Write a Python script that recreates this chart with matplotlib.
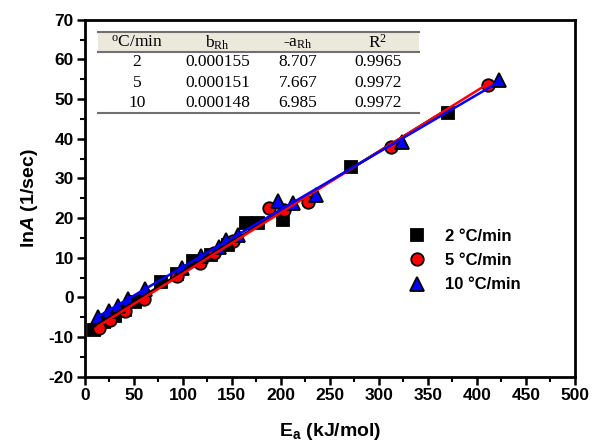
import matplotlib

matplotlib.use("Agg")
import matplotlib.pyplot as plt
import numpy as np
from matplotlib.ticker import MultipleLocator

# 2 C/min (squares)
ea_2 = [9, 20, 31, 41, 51, 78, 94, 110, 129, 146, 164, 177, 202, 272, 370]
lna_2 = [-8.1, -6.3, -4.6, -3.2, -1.2, 4.0, 6.0, 9.3, 10.8, 13.3, 18.8, 18.8, 19.6, 32.8, 46.6]

# 5 C/min (circles)
ea_5 = [14, 26, 41, 60, 94, 117, 132, 151, 188, 203, 228, 312, 411]
lna_5 = [-7.8, -5.8, -3.3, -0.4, 5.5, 8.6, 11.3, 14.1, 22.6, 22.1, 24.0, 37.9, 53.6]

# 10 C/min (triangles)
ea_10 = [13, 25, 34, 44, 61, 99, 118, 137, 144, 156, 197, 212, 236, 324, 423]
lna_10 = [-5.0, -3.4, -2.1, -0.4, 2.1, 7.5, 10.4, 12.7, 14.5, 15.8, 24.2, 23.9, 25.9, 39.2, 54.7]

# inset table
table_header = [r"$\mathregular{^{o}}$C/min", r"b$\mathregular{_{Rh}}$",
                r"-a$\mathregular{_{Rh}}$", r"R$\mathregular{^{2}}$"]
table_rows = [
    ["2", "0.000155", "8.707", "0.9965"],
    ["5", "0.000151", "7.667", "0.9972"],
    ["10", "0.000148", "6.985", "0.9972"],
]

plt.rcParams["font.family"] = "Liberation Sans"
plt.rcParams["font.weight"] = "bold"
plt.rcParams["axes.unicode_minus"] = False
plt.rcParams["mathtext.fontset"] = "custom"
plt.rcParams["mathtext.rm"] = "Liberation Sans:bold"
plt.rcParams["mathtext.bf"] = "Liberation Sans:bold"
plt.rcParams["mathtext.it"] = "Liberation Sans:bold:italic"

fig = plt.figure(figsize=(6.02, 4.47), dpi=100)
ax = fig.add_axes([0.141, 0.157, 0.814, 0.799])

series = [
    (ea_2, lna_2, "s", "black", 8.5, "2 \u00b0C/min"),
    (ea_5, lna_5, "o", "red", 9, "5 \u00b0C/min"),
    (ea_10, lna_10, "^", "blue", 10, "10 \u00b0C/min"),
]
for i, (xs, ys, mk, col, ms, lab) in enumerate(series):
    ax.plot(xs, ys, linestyle="none", marker=mk, color=col, markeredgecolor="black",
            markeredgewidth=1.3, markersize=ms, label=lab, zorder=3 + i)

for xs, ys, col in [(ea_2, lna_2, "black"), (ea_5, lna_5, "red"), (ea_10, lna_10, "blue")]:
    k, c = np.polyfit(xs, ys, 1)
    xl = np.array([min(xs), max(xs)])
    ax.plot(xl, k * xl + c, color=col, linewidth=1.8, zorder=7)

ax.set_xlim(0, 500)
ax.set_ylim(-20, 70)
ax.xaxis.set_major_locator(MultipleLocator(50))
ax.xaxis.set_minor_locator(MultipleLocator(25))
ax.yaxis.set_major_locator(MultipleLocator(10))
ax.yaxis.set_minor_locator(MultipleLocator(5))
ax.tick_params(which="major", direction="out", length=6, width=1.8, labelsize=12.5, pad=2)
ax.tick_params(which="minor", direction="out", length=3.5, width=1.5)
for sp in ax.spines.values():
    sp.set_linewidth(2)

ax.set_xlabel(r"E$_\mathregular{a}$ (kJ/mol)", fontsize=14, fontweight="bold", labelpad=13)
ax.set_ylabel(r"ln$A$ (1/sec)", fontsize=14, fontweight="bold", labelpad=6)

leg = ax.legend(loc="center left", bbox_to_anchor=(0.62, 0.325), frameon=False,
                prop={"size": 12, "weight": "bold"}, labelspacing=0.55,
                handletextpad=0.9, handlelength=1.6)

# table drawn in axes fraction coordinates
tf = ax.transAxes
ax.fill_between([0.027, 0.682], 0.910, 0.966, transform=tf, color="#ebe8dc", zorder=1, linewidth=0)
for yy in [0.966, 0.910, 0.739]:
    ax.plot([0.027, 0.682], [yy, yy], transform=tf, color="#707070", linewidth=1.5, zorder=2)
col_x = [0.106, 0.271, 0.435, 0.598]
for cx, txt in zip(col_x, table_header):
    ax.text(cx, 0.936, txt, transform=tf, ha="center", va="center", fontsize=12.5,
            family="Liberation Serif", fontweight="normal")
for ry, row in zip([0.882, 0.824, 0.768], table_rows):
    for cx, txt in zip(col_x, row):
        ax.text(cx, ry, txt, transform=tf, ha="center", va="center", fontsize=12.5,
                family="Liberation Serif", fontweight="normal")

fig.savefig("out.png", dpi=100)
plt.close(fig)
